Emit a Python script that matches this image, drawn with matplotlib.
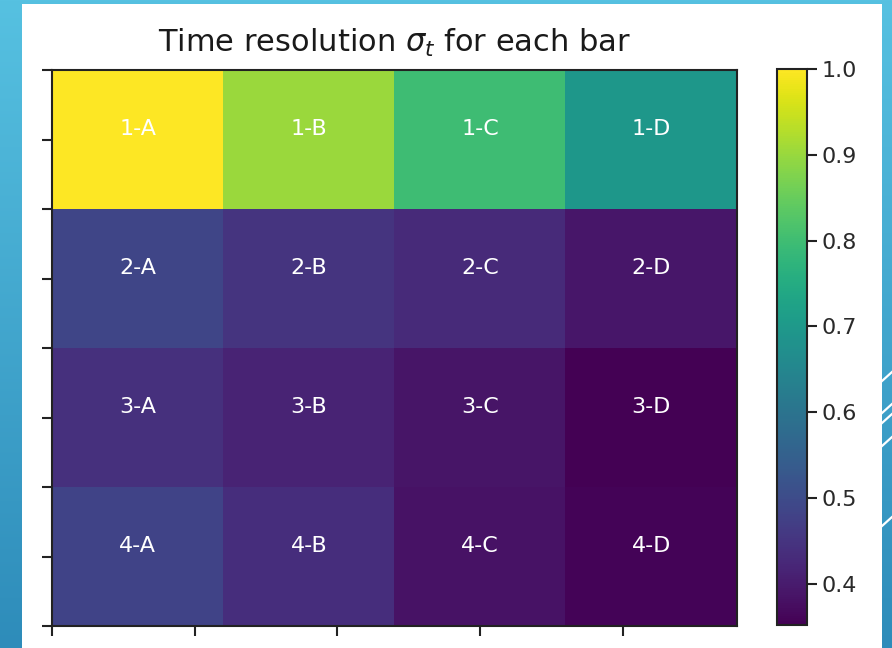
import numpy as np
import matplotlib
matplotlib.use("Agg")
import matplotlib.pyplot as plt
from matplotlib.patches import Rectangle
from matplotlib.lines import Line2D
from matplotlib.colors import LinearSegmentedColormap

rows = ["1", "2", "3", "4"]
cols = ["A", "B", "C", "D"]
values = [
    [1.000, 0.903, 0.799, 0.695],
    [0.488, 0.449, 0.430, 0.391],
    [0.443, 0.417, 0.388, 0.352],
    [0.482, 0.436, 0.384, 0.358],
]
cbar_ticks = [0.4, 0.5, 0.6, 0.7, 0.8, 0.9, 1.0]
title = r"Time resolution $\sigma_t$ for each bar"

W, H = 892, 648
fig = plt.figure(figsize=(W / 100, H / 100), dpi=100)

# slide background (blue gradient)
bg = fig.add_axes([0, 0, 1, 1], zorder=-10)
grad = np.linspace(0, 1, 256).reshape(-1, 1)
bcm = LinearSegmentedColormap.from_list("bg", ["#56c1e1", "#2e8cba"])
bg.imshow(grad, aspect="auto", cmap=bcm, extent=(0, W, H, 0))
bg.set_xlim(0, W)
bg.set_ylim(H, 0)
bg.axis("off")
bg.add_patch(Rectangle((22, 4), 860, 660, facecolor="white", edgecolor="none"))
for y in [372, 404, 414, 437, 517]:
    bg.add_line(Line2D([882, 892], [y + 9, y], color="white", lw=1.6))

def fx(px):
    return px / W

def fy(py):
    return 1 - py / H

ax = fig.add_axes([fx(52), fy(626), fx(737) - fx(52), fy(70) - fy(626)])
data = np.array(values)
im = ax.imshow(data, cmap="viridis", aspect="auto", extent=(0, 4.8, 0, 8),
               vmin=data.min(), vmax=data.max(), interpolation="nearest")
cw = 4.8 / 4
for i, r in enumerate(rows):
    for j, c in enumerate(cols):
        ax.text((j + 0.5) * cw, 8 - (i + 0.5) * 2 + 0.07, f"{r}-{c}",
                color="white", ha="center", va="baseline", fontsize=16)
ax.set_xticks([0, 1, 2, 3, 4])
ax.set_yticks(range(9))
ax.set_xticklabels([])
ax.set_yticklabels([])
ax.tick_params(length=7, width=1.5, color="#222222")
for s in ax.spines.values():
    s.set_linewidth(1.5)
    s.set_color("#222222")
ax.set_title(title, fontsize=22, pad=13, color="#1a1a1a")

cax = fig.add_axes([fx(777), fy(625), fx(807) - fx(777), fy(69) - fy(625)])
cb = fig.colorbar(im, cax=cax)
cb.set_ticks(cbar_ticks)
cb.ax.tick_params(labelsize=16, length=7, width=1.5, color="#222222",
                  labelcolor="#2a2a2a")
cb.outline.set_linewidth(1.5)
cb.outline.set_edgecolor("#222222")

fig.savefig("out.png", dpi=100)
